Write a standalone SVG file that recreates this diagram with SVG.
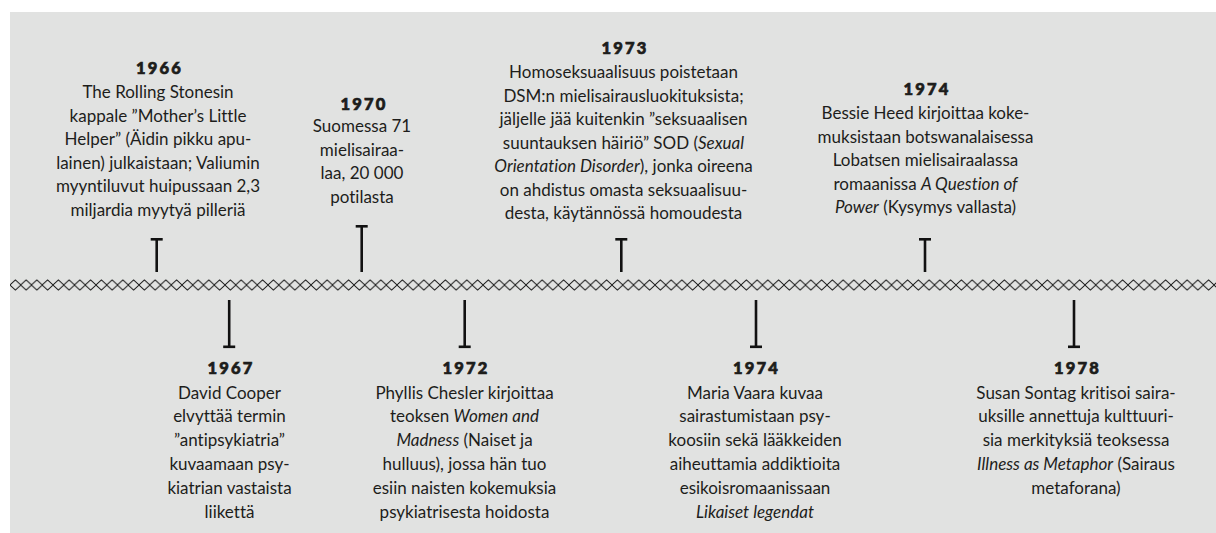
<svg xmlns="http://www.w3.org/2000/svg" width="1216" height="533" viewBox="0 0 1216 533">
<style>
.bg{fill:#e1e2e1}
.t{font-family:Lato,"Liberation Sans",sans-serif;font-size:17px;fill:#1d1d1b;text-anchor:middle;font-variant-ligatures:none}
.y{font-family:Lato,"Liberation Sans",sans-serif;font-size:16.5px;font-weight:900;letter-spacing:2.2px;fill:#1d1d1b;stroke:#1d1d1b;stroke-width:0.7px;text-anchor:middle}
.i{font-style:italic}
.tk{stroke:#111;stroke-width:2.6;fill:none}
.bar{fill:#111}
</style>
<defs>
<pattern id="chain" x="10" y="279" width="10.75" height="12" patternUnits="userSpaceOnUse">
<path d="M0,6 L5.375,1 L10.75,6 L5.375,11 Z" fill="none" stroke="#111" stroke-width="1"/>
</pattern>
</defs>
<rect class="bg" x="10" y="12" width="1206" height="521"/>
<g id="timeline">
<rect x="10" y="279" width="1206" height="12" fill="url(#chain)"/>
</g>
<g id="connectors">
<line class="tk" x1="156.7" y1="238" x2="156.7" y2="272"/><rect class="bar" x="150.7" y="238" width="12" height="2.6"/>
<line class="tk" x1="361.7" y1="225" x2="361.7" y2="272"/><rect class="bar" x="355.7" y="225" width="12" height="2.6"/>
<line class="tk" x1="621.3" y1="238" x2="621.3" y2="272"/><rect class="bar" x="615.3" y="238" width="12" height="2.6"/>
<line class="tk" x1="925" y1="238" x2="925" y2="272"/><rect class="bar" x="919" y="238" width="12" height="2.6"/>
<line class="tk" x1="229.2" y1="300" x2="229.2" y2="348"/><rect class="bar" x="223.2" y="345.5" width="12" height="2.6"/>
<line class="tk" x1="464.7" y1="300" x2="464.7" y2="348"/><rect class="bar" x="458.7" y="345.5" width="12" height="2.6"/>
<line class="tk" x1="756" y1="300" x2="756" y2="348"/><rect class="bar" x="750" y="345.5" width="12" height="2.6"/>
<line class="tk" x1="1074" y1="300" x2="1074" y2="348"/><rect class="bar" x="1068" y="345.5" width="12" height="2.6"/>
</g>
<g id="e1966">
<text class="y" x="159.5" y="74">1966</text>
<text class="t" x="158" y="98">The Rolling Stonesin</text>
<text class="t" x="158" y="121.5">kappale ”Mother’s Little</text>
<text class="t" x="158" y="145">Helper” (Äidin pikku apu-</text>
<text class="t" x="158" y="168.5">lainen) julkaistaan; Valiumin</text>
<text class="t" x="158" y="192">myyntiluvut huipussaan 2,3</text>
<text class="t" x="158" y="215.5">miljardia myytyä pilleriä</text>
</g>
<g id="e1970">
<text class="y" x="364" y="110">1970</text>
<text class="t" x="362" y="132">Suomessa 71</text>
<text class="t" x="362" y="155.5">mielisairaa-</text>
<text class="t" x="362" y="179">laa, 20 000</text>
<text class="t" x="362" y="202.5">potilasta</text>
</g>
<g id="e1973">
<text class="y" x="625" y="54">1973</text>
<text class="t" x="623.5" y="78">Homoseksuaalisuus poistetaan</text>
<text class="t" x="623.5" y="101.5">DSM:n mielisairausluokituksista;</text>
<text class="t" x="623.5" y="125">jäljelle jää kuitenkin ”seksuaalisen</text>
<text class="t" x="623.5" y="148.5">suuntauksen häiriö” SOD (<tspan class="i">Sexual</tspan></text>
<text class="t" x="623.5" y="172"><tspan class="i">Orientation Disorder</tspan>), jonka oireena</text>
<text class="t" x="623.5" y="195.5">on ahdistus omasta seksuaalisuu-</text>
<text class="t" x="623.5" y="219">desta, käytännössä homoudesta</text>
</g>
<g id="e1974a">
<text class="y" x="927" y="95">1974</text>
<text class="t" x="925.5" y="119">Bessie Heed kirjoittaa koke-</text>
<text class="t" x="925.5" y="142.5">muksistaan botswanalaisessa</text>
<text class="t" x="925.5" y="166">Lobatsen mielisairaalassa</text>
<text class="t" x="925.5" y="189.5">romaanissa <tspan class="i">A Question of</tspan></text>
<text class="t" x="925.5" y="213"><tspan class="i">Power</tspan> (Kysymys vallasta)</text>
</g>
<g id="e1967">
<text class="y" x="231" y="374">1967</text>
<text class="t" x="229.5" y="398.5">David Cooper</text>
<text class="t" x="229.5" y="422.3">elvyttää termin</text>
<text class="t" x="229.5" y="446.1">”antipsykiatria”</text>
<text class="t" x="229.5" y="469.9">kuvaamaan psy-</text>
<text class="t" x="229.5" y="493.7">kiatrian vastaista</text>
<text class="t" x="229.5" y="517.5">liikettä</text>
</g>
<g id="e1972">
<text class="y" x="466" y="374">1972</text>
<text class="t" x="464.5" y="398.5">Phyllis Chesler kirjoittaa</text>
<text class="t" x="464.5" y="422.3">teoksen <tspan class="i">Women and</tspan></text>
<text class="t" x="464.5" y="446.1"><tspan class="i">Madness</tspan> (Naiset ja</text>
<text class="t" x="464.5" y="469.9">hulluus), jossa hän tuo</text>
<text class="t" x="464.5" y="493.7">esiin naisten kokemuksia</text>
<text class="t" x="464.5" y="517.5">psykiatrisesta hoidosta</text>
</g>
<g id="e1974b">
<text class="y" x="756.5" y="374">1974</text>
<text class="t" x="755" y="398.5">Maria Vaara kuvaa</text>
<text class="t" x="755" y="422.3">sairastumistaan psy-</text>
<text class="t" x="755" y="446.1">koosiin sekä lääkkeiden</text>
<text class="t" x="755" y="469.9">aiheuttamia addiktioita</text>
<text class="t" x="755" y="493.7">esikoisromaanissaan</text>
<text class="t" x="755" y="517.5"><tspan class="i">Likaiset legendat</tspan></text>
</g>
<g id="e1978">
<text class="y" x="1077.5" y="374">1978</text>
<text class="t" x="1076" y="398.5">Susan Sontag kritisoi saira-</text>
<text class="t" x="1076" y="422.3">uksille annettuja kulttuuri-</text>
<text class="t" x="1076" y="446.1">sia merkityksiä teoksessa</text>
<text class="t" x="1076" y="469.9"><tspan class="i">Illness as Metaphor</tspan> (Sairaus</text>
<text class="t" x="1076" y="493.7">metaforana)</text>
</g>
</svg>
